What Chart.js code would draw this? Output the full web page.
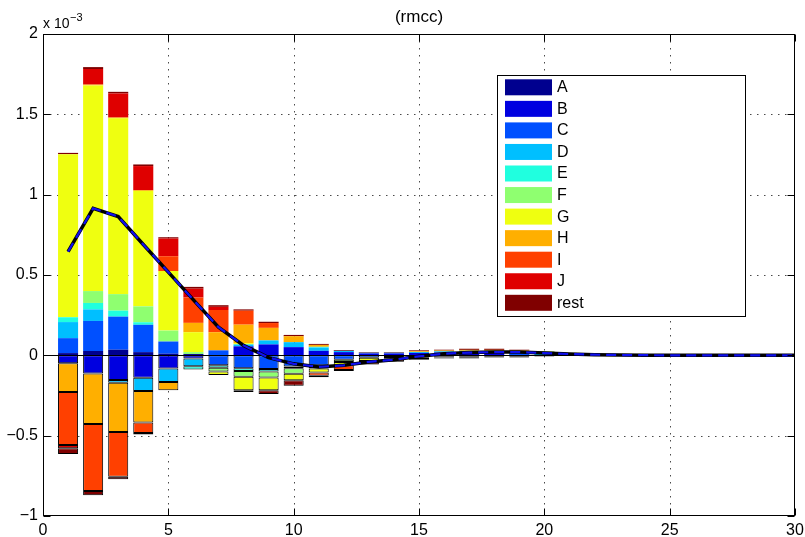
<!DOCTYPE html>
<html>
<head>
<meta charset="utf-8">
<script src="https://cdn.jsdelivr.net/npm/chart.js@4.4.0/dist/chart.umd.min.js"></script>
<style>
  html, body { margin: 0; padding: 0; background: #fff; }
  canvas { display: block; }
</style>
</head>
<body>
<canvas id="c" width="805" height="537"></canvas>
<script>
// all values in units of 1e-3, bar k of each array sits at x = k + 1
const seriesNames = ['A', 'B', 'C', 'D', 'E', 'F', 'G', 'H', 'I', 'J', 'rest'];
const seriesColors = ['#00008f', '#0000e0', '#0050ff', '#00bfff', '#20ffdf', '#8fff70',
                      '#efff10', '#ffaf00', '#ff4000', '#df0000', '#800000'];

const posA    = [.014,.027,.035,.020,.010,.008,0,0,0,0,0,0,0,0,0,0,0,0,0,0,0,0,0,0,0];
const posB    = [0,0,0,0,0,0,0,.056,.068,.051,.028,.020,.012,.012,.015,.018,.020,.018,0,0,0,0,0,0,0];
const posC    = [.093,.187,.206,.170,.076,0,.031,0,0,0,0,0,0,0,0,0,0,0,.015,0,0,0,0,0,0];
const posD    = [.100,.072,0,0,0,0,0,.012,.025,.031,.020,.008,.004,.004,.006,.007,.008,.010,.010,.010,0,0,0,0,0];
const posE    = [.030,.040,.037,.016,0,0,0,0,0,0,.005,0,0,0,0,0,0,0,0,.008,.006,0,0,0,0];
const posF    = [0,.074,.103,.099,.068,.012,0,0,0,0,0,0,0,0,0,0,0,0,0,.006,.006,.004,0,0,0];
const posG    = [1.015,1.280,1.094,.718,.371,.124,0,.008,0,0,0,0,0,0,0,0,0,0,0,0,.003,.003,.003,.002,0];
const posH    = [0,.005,.005,.005,0,.058,.113,.115,.078,.037,.012,0,0,0,.005,.005,.006,.006,.005,0,0,0,0,0,0];
const posI    = [0,0,0,0,.092,.158,.138,.087,.030,0,0,0,0,0,0,0,0,0,0,0,0,0,0,0,0];
const posJ    = [0,.097,.150,.150,.110,.055,.020,0,0,0,0,0,0,0,0,0,0,0,0,0,0,0,0,0,0];
const posRest = [.008,.012,.010,.010,.008,.011,.010,.008,.008,.008,.006,.005,.004,.004,.005,.005,.007,.007,.005,.003,0,0,0,0,0];

const negA    = [0,0,0,0,0,0,0,0,0,0,0,0,0,0,-.005,-.005,-.005,-.005,-.006,-.004,-.003,-.002,0,0,0];
const negB    = [-.050,-.113,-.154,-.140,-.082,-.020,0,0,0,0,0,0,0,0,0,0,0,0,0,0,0,0,0,0,0];
const negC    = [0,0,0,0,0,0,-.062,-.080,-.085,-.070,-.062,-.027,-.015,-.010,-.010,-.008,-.010,-.007,-.006,-.004,0,0,0,0,0];
const negD    = [0,0,-.016,-.082,-.084,-.048,0,0,0,0,0,0,0,0,0,0,0,0,0,0,0,0,0,0,0];
const negE    = [0,0,0,0,0,-.020,-.015,-.018,-.015,-.010,-.010,0,0,0,0,0,0,0,0,0,0,0,0,0,0];
const negF    = [0,0,0,0,0,0,-.024,-.035,-.038,-.035,-.010,-.015,0,0,0,0,0,0,0,0,0,0,0,0,0];
const negG    = [0,0,0,0,0,0,-.022,-.085,-.080,-.040,-.025,-.020,-.020,-.012,0,0,0,0,0,0,0,0,0,0,0];
const negH    = [-.178,-.315,-.307,-.196,-.052,0,0,0,0,0,0,0,0,0,0,0,0,0,0,0,0,0,0,0,0];
const negI    = [-.330,-.416,-.278,-.065,0,0,0,0,0,0,-.020,-.030,-.020,-.015,0,0,0,0,0,0,0,0,0,0,0];
const negJ    = [-.020,0,0,0,0,0,0,0,0,0,0,0,0,0,0,0,0,0,0,0,0,0,0,0,0];
const negRest = [-.036,-.027,-.017,-.010,0,0,0,-.010,-.022,-.035,-.010,-.005,-.003,-.004,-.012,-.007,-.005,-.003,-.003,0,0,0,0,0,0];

// total response line, x = 1..30
const lineVals = [0.645, 0.915, 0.864, 0.690, 0.518, 0.345, 0.175, 0.062, -0.014, -0.053,
                  -0.072, -0.062, -0.041, -0.027, -0.006, 0.010, 0.017, 0.020, 0.020, 0.014,
                  0.008, 0.004, 0.002, 0.001, 0, 0, 0, 0, 0, 0];

const xTicks = [0, 5, 10, 15, 20, 25, 30];
const yTicks = [-1, -0.5, 0, 0.5, 1, 1.5, 2];
const titleText = '(rmcc)';

const posSets = [posA, posB, posC, posD, posE, posF, posG, posH, posI, posJ, posRest];
const negSets = [negA, negB, negC, negD, negE, negF, negG, negH, negI, negJ, negRest];

const FONT = "'Liberation Sans', Arial, Helvetica, sans-serif";
const pts = arr => arr.map((v, i) => ({ x: i + 1, y: v === 0 ? null : v }));
const fmt = v => (v < 0 ? '\u2212' + Math.abs(v) : String(v));

const datasets = [];
posSets.forEach((arr, i) => datasets.push({
  type: 'bar', label: seriesNames[i], data: pts(arr), stack: 'bars',
  backgroundColor: seriesColors[i], borderWidth: 0,
  barPercentage: 0.8, categoryPercentage: 1
}));
negSets.forEach((arr, i) => datasets.push({
  type: 'bar', label: seriesNames[i], data: pts(arr), stack: 'bars',
  backgroundColor: seriesColors[i], borderColor: '#000', borderWidth: 1, borderSkipped: false,
  barPercentage: 0.8, categoryPercentage: 1
}));
datasets.push({
  type: 'line', label: 'total', data: lineVals.map((v, i) => ({ x: i + 1, y: v })), stack: 'line1',
  borderColor: '#000', borderWidth: 3.5, pointRadius: 0, tension: 0, order: -1
});
datasets.push({
  type: 'line', label: 'total2', data: lineVals.map((v, i) => ({ x: i + 1, y: v })), stack: 'line2',
  borderColor: '#1010f0', borderWidth: 2.2, borderDash: [10, 6], pointRadius: 0, tension: 0, order: -2
});

function seg(ctx, x1, y1, x2, y2) {
  ctx.beginPath(); ctx.moveTo(x1, y1); ctx.lineTo(x2, y2); ctx.stroke();
}

const decorations = {
  id: 'decorations',
  beforeDatasetsDraw(chart) {
    const { ctx, chartArea: a, scales: { x, y } } = chart;
    ctx.save();
    ctx.strokeStyle = '#4a4a4a';
    ctx.lineWidth = 1;
    ctx.setLineDash([1.5, 5.5]);
    xTicks.forEach(v => {
      if (v <= x.min || v >= x.max) return;
      const px = Math.round(x.getPixelForValue(v)) + 0.5;
      seg(ctx, px, a.top, px, a.bottom);
    });
    yTicks.forEach(v => {
      if (v <= y.min || v >= y.max) return;
      const py = Math.round(y.getPixelForValue(v)) + 0.5;
      seg(ctx, a.left, py, a.right, py);
    });
    ctx.restore();
  },
  afterDatasetDraw(chart, args) {
    // bar baseline, after the last bar dataset and before the lines
    if (args.index !== 0) return;
    const { ctx, chartArea: a, scales: { y } } = chart;
    const py = Math.round(y.getPixelForValue(0)) + 0.5;
    ctx.save();
    ctx.strokeStyle = '#000';
    ctx.lineWidth = 1;
    seg(ctx, a.left, py, a.right, py);
    ctx.restore();
  },
  afterDraw(chart) {
    const { ctx, chartArea: a, scales: { x, y } } = chart;
    ctx.save();
    // axes box with inward ticks
    ctx.strokeStyle = '#000';
    ctx.lineWidth = 1;
    const L = Math.round(a.left) + 0.5, T = Math.round(a.top) + 0.5;
    const R = Math.round(a.right) - 0.5, B = Math.round(a.bottom) - 0.5;
    ctx.strokeRect(L, T, R - L, B - T);
    const tl = 7;
    xTicks.forEach(v => {
      const px = Math.round(x.getPixelForValue(v)) + 0.5;
      seg(ctx, px, B, px, B - tl);
      seg(ctx, px, T, px, T + tl);
    });
    yTicks.forEach(v => {
      const py = Math.round(y.getPixelForValue(v)) + 0.5;
      seg(ctx, L, py, L + tl, py);
      seg(ctx, R, py, R - tl, py);
    });

    // title
    ctx.fillStyle = '#000';
    ctx.textAlign = 'center';
    ctx.textBaseline = 'alphabetic';
    ctx.font = '17px ' + FONT;
    ctx.fillText(titleText, (a.left + a.right) / 2, 22);

    // exponent label
    ctx.textAlign = 'left';
    ctx.font = '14px ' + FONT;
    ctx.fillText('x 10', a.left, 28);
    const w = ctx.measureText('x 10').width;
    ctx.font = '11px ' + FONT;
    ctx.fillText('\u22123', a.left + w + 0.5, 20.5);

    // legend
    const bx = 497.5, by = 75.5, bw = 248, bh = 241;
    ctx.fillStyle = '#fff';
    ctx.fillRect(bx, by, bw, bh);
    ctx.strokeRect(bx, by, bw, bh);
    ctx.font = '16px ' + FONT;
    ctx.textBaseline = 'middle';
    seriesNames.forEach((name, i) => {
      const cy = 87.3 + i * 21.55;
      ctx.fillStyle = seriesColors[i];
      ctx.fillRect(505, cy - 8, 47, 16);
      ctx.fillStyle = '#000';
      ctx.fillText(name, 557, cy + 0.5);
    });
    ctx.restore();
  }
};

new Chart(document.getElementById('c'), {
  data: { datasets },
  options: {
    responsive: false,
    devicePixelRatio: 1,
    animation: false,
    events: [],
    layout: { padding: { left: 0, right: 10, top: 34, bottom: 0 } },
    plugins: { legend: { display: false }, tooltip: { enabled: false }, title: { display: false } },
    scales: {
      x: {
        type: 'linear', min: 0, max: 30, stacked: true, offset: false,
        grid: { display: false, drawTicks: false, offset: false }, border: { display: false },
        afterBuildTicks: s => { s.ticks = xTicks.map(v => ({ value: v })); },
        afterFit: s => { s.height = 21; s.paddingLeft = 0; s.paddingRight = 0; },
        ticks: { font: { family: FONT, size: 16 }, color: '#000', padding: 5,
                 maxRotation: 0, autoSkip: false, callback: v => fmt(v) }
      },
      y: {
        type: 'linear', min: -1, max: 2, stacked: true,
        grid: { display: false, drawTicks: false }, border: { display: false },
        afterBuildTicks: s => { s.ticks = yTicks.map(v => ({ value: v })); },
        afterFit: s => { s.width = 43; s.paddingTop = 0; s.paddingBottom = 0; },
        ticks: { font: { family: FONT, size: 16 }, color: '#000', padding: 5,
                 autoSkip: false, callback: v => fmt(v) }
      }
    }
  },
  plugins: [decorations]
});
</script>
</body>
</html>
